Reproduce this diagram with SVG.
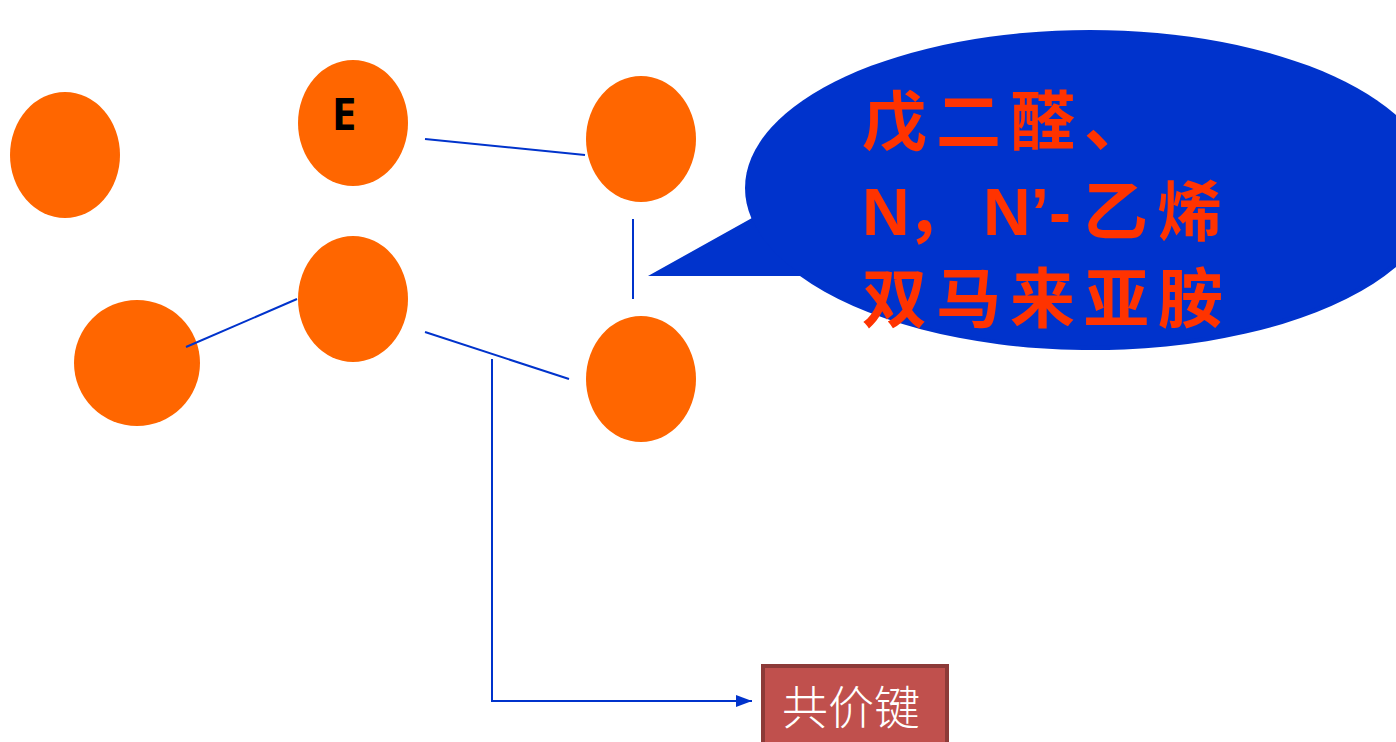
<svg xmlns="http://www.w3.org/2000/svg" width="1396" height="742" viewBox="0 0 1396 742">
  <style>
    .node { fill: #FF6600; }
    .conn { stroke: #0033CC; stroke-width: 2; fill: none; }
    .lbl { font-family: "Noto Sans", "Liberation Sans", sans-serif; font-weight: bold; font-size: 44px; fill: #000; }
    .call { font-family: "Noto Sans CJK SC", sans-serif; font-weight: bold; font-size: 65px; fill: #FF3300; letter-spacing: 9px; }
    .lat { font-family: "Liberation Sans", Arial, sans-serif; letter-spacing: 0; font-size: 66px; }
    .box { font-family: "Noto Sans CJK SC", sans-serif; font-weight: 300; font-size: 46px; fill: #FFFFFF; }
  </style>
  <defs>
    <marker id="arrow" markerWidth="16" markerHeight="12" refX="16" refY="6" orient="auto" markerUnits="userSpaceOnUse">
      <path d="M0,0 L16,6 L0,12 Z" fill="#0033CC"/>
    </marker>
  </defs>
  <rect width="1396" height="742" fill="#FFFFFF"/>

  <g id="nodes">
    <g id="n1"><ellipse class="node" cx="65" cy="155" rx="55" ry="63"/></g>
    <g id="nE"><ellipse class="node" cx="353" cy="123" rx="55" ry="63"/>
      <text class="lbl" x="344" y="130" text-anchor="middle">E</text></g>
    <g id="nTR"><ellipse class="node" cx="641" cy="139" rx="55" ry="63"/></g>
    <g id="nM"><ellipse class="node" cx="353" cy="299" rx="55" ry="63"/></g>
    <g id="nBL"><ellipse class="node" cx="137" cy="363" rx="63" ry="63"/></g>
    <g id="nBR"><ellipse class="node" cx="641" cy="379" rx="55" ry="63"/></g>
  </g>

  <g id="connectors">
    <line class="conn" x1="425" y1="139" x2="585" y2="155"/>
    <line class="conn" x1="633" y1="219" x2="633" y2="299"/>
    <line class="conn" x1="425" y1="332" x2="569" y2="379"/>
    <line class="conn" x1="186" y1="347" x2="297" y2="299"/>
    <path class="conn" d="M492,359 L492,701 L752,701" marker-end="url(#arrow)"/>
  </g>

  <g id="callout">
    <path d="M648,276 L752,218 A345,158 0 1 1 800,276 Z" fill="#0033CC"/>
    <ellipse cx="1090" cy="188" rx="345" ry="158" fill="#0033CC"/>
    <text class="call" x="862" y="145">戊二醛、</text>
    <text class="call" y="235"><tspan class="lat" x="862">N</tspan><tspan x="906">，</tspan><tspan class="lat" x="983">N’-</tspan><tspan x="1083">乙烯</tspan></text>
    <text class="call" x="862" y="322">双马来亚胺</text>
  </g>

  <g id="covalent">
    <rect x="763" y="666" width="184" height="90" fill="#C0504D" stroke="#8C3A38" stroke-width="4"/>
    <text class="box" x="782" y="724">共价键</text>
  </g>
</svg>
